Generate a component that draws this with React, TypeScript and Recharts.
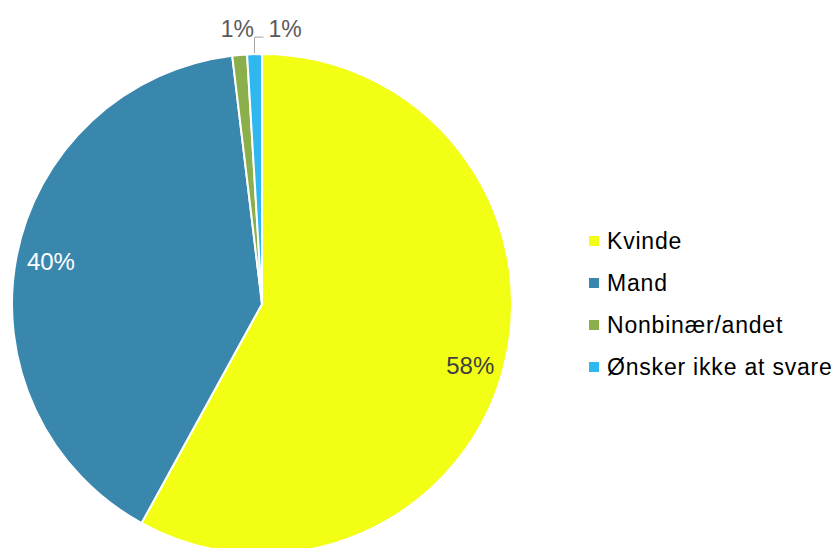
import { PieChart, Pie, Cell, Legend } from 'recharts';

const categories = ['Kvinde', 'Mand', 'Nonbinær/andet', 'Ønsker ikke at svare'];
const shares = [58.0, 40.1, 0.95, 0.95];
const colors = ['#F2FF14', '#3A87AD', '#8BAF4B', '#2EB8EF'];
const labelColors = ['#404040', '#FFFFFF', '#595959', '#595959'];

const data = categories.map((name, i) => ({ name, value: shares[i] }));

const RAD = Math.PI / 180;
const FONT = 'Liberation Sans, Arial, sans-serif';

function renderLabel(props: any) {
  const { cx, cy, midAngle, outerRadius, percent, index } = props;
  const text = `${Math.round(percent * 100)}%`;
  const cos = Math.cos(-midAngle * RAD);
  const sin = Math.sin(-midAngle * RAD);

  if (index < 2) {
    const r = outerRadius * 0.86;
    return (
      <text
        x={cx + r * cos}
        y={cy + r * sin + (index === 0 ? 8 : -2)}
        fill={labelColors[index]}
        fontSize={24}
        fontFamily={FONT}
        textAnchor="middle"
        dominantBaseline="central"
      >
        {text}
      </text>
    );
  }

  if (index === 2) {
    const r = outerRadius + 26;
    return (
      <text
        x={cx + r * cos}
        y={cy + r * sin}
        fill={labelColors[index]}
        fontSize={23}
        fontFamily={FONT}
        textAnchor="middle"
        dominantBaseline="central"
      >
        {text}
      </text>
    );
  }

  // last small slice: label pulled to the right with a leader line
  const sx = cx + (outerRadius + 1) * cos;
  const sy = cy + (outerRadius + 1) * sin;
  const ey = cy + (outerRadius + 17) * sin;
  const ex = sx + 9;
  return (
    <g>
      <polyline
        points={`${sx},${sy} ${sx},${ey} ${ex},${ey}`}
        fill="none"
        stroke="#A6A6A6"
        strokeWidth={1}
      />
      <text
        x={ex + 5}
        y={ey - 8}
        fill={labelColors[index]}
        fontSize={23}
        fontFamily={FONT}
        textAnchor="start"
        dominantBaseline="central"
      >
        {text}
      </text>
    </g>
  );
}

function renderLegend() {
  return (
    <div style={{ fontFamily: FONT }}>
      {categories.map((c, i) => (
        <div
          key={c}
          style={{ display: 'flex', alignItems: 'center', height: 42 }}
        >
          <span
            style={{
              display: 'inline-block',
              width: 10,
              height: 10,
              background: colors[i],
              marginRight: 8,
            }}
          />
          <span style={{ fontSize: 23, color: '#000', letterSpacing: 0.8, whiteSpace: 'nowrap' }}>{c}</span>
        </div>
      ))}
    </div>
  );
}

export default function App() {
  return (
    <div style={{ position: 'absolute', left: 0, top: 0, width: 836, height: 548, background: '#fff' }}>
      <PieChart width={836} height={548} margin={{ top: 0, right: 0, bottom: 0, left: 0 }}>
        <Pie
          data={data}
          dataKey="value"
          nameKey="name"
          cx={262}
          cy={304}
          outerRadius={250}
          startAngle={90}
          endAngle={-270}
          stroke="#FFFFFF"
          strokeWidth={2}
          label={renderLabel}
          labelLine={false}
          isAnimationActive={false}
        >
          {data.map((d, i) => (
            <Cell key={d.name} fill={colors[i]} />
          ))}
        </Pie>
        <Legend
          content={renderLegend}
          wrapperStyle={{ left: 589, top: 220, width: 247 }}
        />
      </PieChart>
    </div>
  );
}
